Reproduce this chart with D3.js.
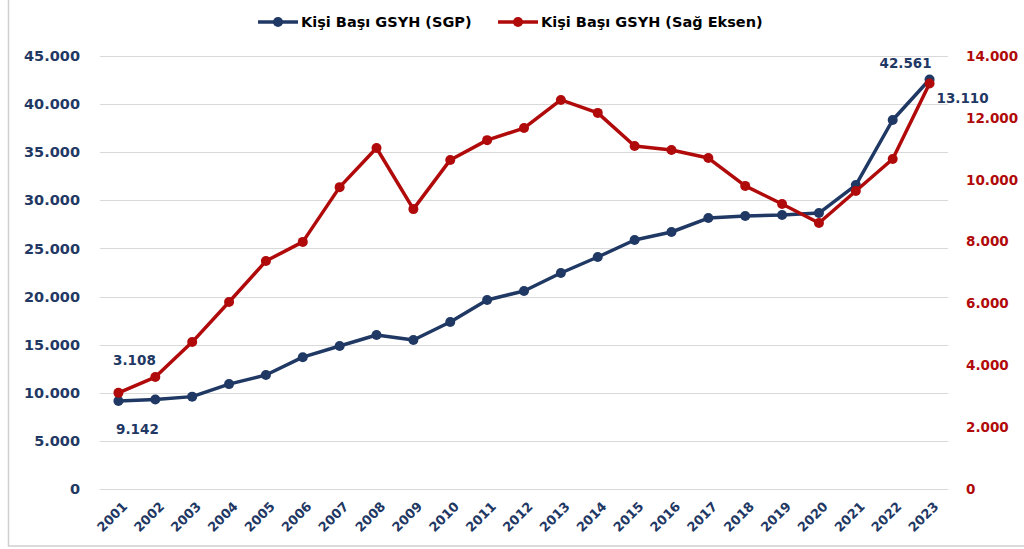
<!DOCTYPE html>
<html>
<head>
<meta charset="utf-8">
<script src="https://cdn.jsdelivr.net/npm/d3@7/dist/d3.min.js"></script>
<style>
  html, body { margin: 0; padding: 0; background: #fff; }
  svg text { font-family: "DejaVu Sans", Verdana, sans-serif; font-weight: bold; }
</style>
</head>
<body>
<div id="chart"></div>
<script>
// ── veri ──
const years = ['2001','2002','2003','2004','2005','2006','2007','2008','2009','2010','2011','2012',
               '2013','2014','2015','2016','2017','2018','2019','2020','2021','2022','2023'];
const sgp   = [9142, 9300, 9600, 10900, 11850, 13700, 14860, 16000, 15480, 17360, 19640, 20580,
               22450, 24110, 25880, 26710, 28160, 28370, 28480, 28680, 31590, 38350, 42561];
const usd   = [3108, 3620, 4750, 6046, 7370, 7990, 9760, 11025, 9050, 10640, 11280, 11670,
               12580, 12160, 11090, 10960, 10700, 9800, 9215, 8600, 9635, 10670, 13110];
const leftTicks  = [0, 5000, 10000, 15000, 20000, 25000, 30000, 35000, 40000, 45000];
const rightTicks = [0, 2000, 4000, 6000, 8000, 10000, 12000, 14000];
const seriesNames = ['Kişi Başı GSYH (SGP)', 'Kişi Başı GSYH (Sağ Eksen)'];

const W = 1024, H = 549;
const NAVY = '#1f3864', RED = '#b00a0a';
const M = { left: 100, right: 948, top: 56, bottom: 489 };

const fmt = v => d3.format(',')(v).replace(/,/g, '.');

const svg = d3.select('#chart').append('svg').attr('width', W).attr('height', H);

// çerçeve
svg.append('rect').attr('x', 8.5).attr('y', -2).attr('width', W).attr('height', 548)
  .attr('fill', 'none').attr('stroke', '#d0d0d0').attr('stroke-width', 1.5);

const x  = d3.scalePoint().domain(years).range([M.left, M.right]).padding(0.5);
const yL = d3.scaleLinear().domain([0, 45000]).range([M.bottom, M.top]);
const yR = d3.scaleLinear().domain([0, 14000]).range([M.bottom, M.top]);

// ── ızgara ──
svg.append('g').selectAll('line').data(leftTicks).enter().append('line')
  .attr('x1', M.left).attr('x2', M.right)
  .attr('y1', d => Math.round(yL(d)) + 0.5).attr('y2', d => Math.round(yL(d)) + 0.5)
  .attr('stroke', '#d9d9d9').attr('stroke-width', 1);

// ── eksenler ──
const axL = svg.append('g').attr('transform', 'translate(80,0)')
  .call(d3.axisLeft(yL).tickValues(leftTicks).tickFormat(fmt).tickSize(0).tickPadding(0));
axL.select('.domain').remove();
axL.selectAll('text').attr('fill', NAVY).style('font-size', '14.5px');

const axR = svg.append('g').attr('transform', 'translate(966,0)')
  .call(d3.axisRight(yR).tickValues(rightTicks).tickFormat(fmt).tickSize(0).tickPadding(0));
axR.select('.domain').remove();
axR.selectAll('text').attr('fill', RED).style('font-size', '13.5px');

const axX = svg.append('g').attr('transform', `translate(0,${M.bottom})`)
  .call(d3.axisBottom(x).tickSize(0).tickPadding(0));
axX.select('.domain').remove();
axX.selectAll('text')
  .attr('fill', NAVY).style('font-size', '13px')
  .attr('text-anchor', 'end').attr('dy', '0.35em')
  .attr('transform', 'translate(6,15) rotate(-45)');

// ── seriler ──
function drawSeries(vals, scale, color) {
  const line = d3.line().x((d, i) => x(years[i])).y(d => scale(d));
  svg.append('path').datum(vals).attr('d', line)
    .attr('fill', 'none').attr('stroke', color).attr('stroke-width', 3.5)
    .attr('stroke-linejoin', 'round');
  svg.append('g').selectAll('circle').data(vals).enter().append('circle')
    .attr('cx', (d, i) => x(years[i])).attr('cy', d => scale(d))
    .attr('r', 5).attr('fill', color);
}
drawSeries(sgp, yL, NAVY);
drawSeries(usd, yR, RED);

// ── veri etiketleri ──
const lab = (t, px, py, anchor) => svg.append('text').attr('x', px).attr('y', py)
  .attr('text-anchor', anchor || 'middle').attr('dy', '0.35em')
  .attr('fill', '#1f3864').style('font-size', '13.5px').text(t);
const n = years.length - 1;
lab(fmt(usd[0]), x(years[0]) + 16, yR(usd[0]) - 33);
lab(fmt(sgp[0]), x(years[0]) + 19, yL(sgp[0]) + 28);
lab(fmt(sgp[n]), x(years[n]) - 24, yL(sgp[n]) - 16);
lab(fmt(usd[n]), x(years[n]) + 33, yR(usd[n]) + 15);

// ── lejant ──
const legend = [
  { name: seriesNames[0], color: NAVY, x0: 258 },
  { name: seriesNames[1], color: RED,  x0: 498 }
];
const lg = svg.append('g').selectAll('g').data(legend).enter().append('g')
  .attr('transform', d => `translate(${d.x0},22)`);
lg.append('line').attr('x1', 0).attr('x2', 40).attr('y1', 0).attr('y2', 0)
  .attr('stroke', d => d.color).attr('stroke-width', 3.5);
lg.append('circle').attr('cx', 20).attr('r', 5).attr('fill', d => d.color);
lg.append('text').attr('x', 43).attr('dy', '0.35em').attr('fill', '#000')
  .style('font-size', '14.5px').text(d => d.name);
</script>
</body>
</html>
